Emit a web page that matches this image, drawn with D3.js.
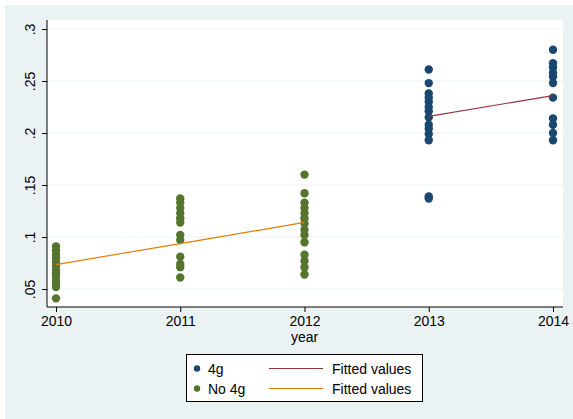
<!DOCTYPE html>
<html>
<head>
<meta charset="utf-8">
<script src="https://cdn.jsdelivr.net/npm/d3@7"></script>
<style>
  html, body { margin: 0; padding: 0; background: #ffffff; }
  svg { display: block; }
  text { font-family: "Liberation Sans", Arial, sans-serif; fill: #000; }
</style>
</head>
<body>
<svg id="chart" width="573" height="419"></svg>
<script>
// Year categories on the x axis
const years = [2010, 2011, 2012, 2013, 2014];
const yTicks = [0.05, 0.1, 0.15, 0.2, 0.25, 0.3];

// Observations for markets with 4g (by year)
const fourG2013 = [0.261, 0.248, 0.238, 0.234, 0.230, 0.225, 0.221, 0.215, 0.208, 0.204, 0.199, 0.193, 0.139, 0.137];
const fourG2014 = [0.280, 0.267, 0.263, 0.258, 0.254, 0.248, 0.234, 0.214, 0.208, 0.200, 0.193];

// Observations for markets without 4g (by year)
const noFourG2010 = [0.091, 0.087, 0.083, 0.080, 0.076, 0.072, 0.068, 0.065, 0.062, 0.058, 0.055, 0.052, 0.041];
const noFourG2011 = [0.137, 0.133, 0.128, 0.123, 0.118, 0.114, 0.102, 0.097, 0.081, 0.074, 0.071, 0.061];
const noFourG2012 = [0.160, 0.142, 0.133, 0.128, 0.123, 0.118, 0.113, 0.107, 0.102, 0.095, 0.083, 0.077, 0.071, 0.064];

// Fitted values from the linear fits
const fitYears4g = [2013, 2014];
const fitValues4g = [0.216, 0.236];
const fitYearsNo4g = [2010, 2011, 2012];
const fitValuesNo4g = [0.0735, 0.0937, 0.114];

const legendLabels = ["4g", "No 4g", "Fitted values", "Fitted values"];

const colors = {
  fourG: "#1a476f",
  noFourG: "#55752f",
  fit4g: "#90353b",
  fitNo4g: "#e37e00",
  graphBg: "#eaf2f3",
  grid: "#eaf2f3"
};

const svg = d3.select("#chart");

// graph region background
svg.append("rect").attr("x", 5).attr("y", 5).attr("width", 568).attr("height", 414)
  .attr("fill", colors.graphBg);

const plot = { left: 47, right: 563, top: 20, bottom: 307 };

const x = d3.scaleLinear().domain([2010, 2014]).range([56, 553]);
const y = d3.scaleLinear().domain([0.05, 0.3]).range([289, 29]);

// plot region
svg.append("rect")
  .attr("x", plot.left).attr("y", plot.top)
  .attr("width", plot.right - plot.left).attr("height", plot.bottom - plot.top)
  .attr("fill", "#ffffff");

// horizontal gridlines
svg.append("g").selectAll("line").data(yTicks).join("line")
  .attr("x1", plot.left).attr("x2", plot.right)
  .attr("y1", d => y(d)).attr("y2", d => y(d))
  .attr("stroke", colors.grid).attr("stroke-width", 1.2);

// y axis
const fmtY = d => d3.format("")(+d.toFixed(2)).replace(/^0\./, ".");
const yAxis = d3.axisLeft(y).tickValues(yTicks).tickSize(5).tickPadding(4).tickFormat(fmtY);
const gy = svg.append("g").attr("transform", `translate(${plot.left},0)`).call(yAxis);
gy.select(".domain").remove();
gy.append("line").attr("x1", 0).attr("x2", 0).attr("y1", plot.top).attr("y2", plot.bottom)
  .attr("stroke", "#000").attr("stroke-width", 1);
gy.selectAll(".tick line").attr("stroke", "#000");
gy.selectAll(".tick text")
  .attr("font-size", 14)
  .attr("transform", "rotate(-90)")
  .attr("x", 0).attr("dy", 0)
  .attr("y", -12)
  .attr("text-anchor", "middle")
  .attr("fill", "#000");

// x axis
const xAxis = d3.axisBottom(x).tickValues(years).tickSize(5).tickPadding(4).tickFormat(d3.format("d"));
const gx = svg.append("g").attr("transform", `translate(0,${plot.bottom})`).call(xAxis);
gx.select(".domain").remove();
gx.append("line").attr("x1", plot.left).attr("x2", plot.right).attr("y1", 0).attr("y2", 0)
  .attr("stroke", "#000").attr("stroke-width", 1);
gx.selectAll(".tick line").attr("stroke", "#000");
gx.selectAll(".tick text").attr("font-size", 14).attr("fill", "#000");

// x axis title
svg.append("text").attr("x", (x(2010) + x(2014)) / 2).attr("y", 342)
  .attr("text-anchor", "middle").attr("font-size", 14).text("year");

// scatter points
const pts = [];
const addPts = (yr, vals, group) => vals.forEach(v => pts.push({ yr, v, group }));
addPts(2010, noFourG2010, "no");
addPts(2011, noFourG2011, "no");
addPts(2012, noFourG2012, "no");
addPts(2013, fourG2013, "4g");
addPts(2014, fourG2014, "4g");

svg.append("g").selectAll("circle").data(pts).join("circle")
  .attr("cx", d => x(d.yr)).attr("cy", d => y(d.v)).attr("r", 4.2)
  .attr("fill", d => d.group === "4g" ? colors.fourG : colors.noFourG);

// fitted lines
const line = d3.line().x(d => x(d[0])).y(d => y(d[1]));
svg.append("path").datum(d3.zip(fitYears4g, fitValues4g)).attr("d", line)
  .attr("fill", "none").attr("stroke", colors.fit4g).attr("stroke-width", 1.2);
svg.append("path").datum(d3.zip(fitYearsNo4g, fitValuesNo4g)).attr("d", line)
  .attr("fill", "none").attr("stroke", colors.fitNo4g).attr("stroke-width", 1.2);

// legend
const lg = svg.append("g");
lg.append("rect").attr("x", 186.5).attr("y", 354.5).attr("width", 236).attr("height", 47)
  .attr("fill", "#fff").attr("stroke", "#000").attr("stroke-width", 1);
const rowY = [368.5, 388.5];
lg.append("circle").attr("cx", 197).attr("cy", rowY[0]).attr("r", 3.2).attr("fill", colors.fourG);
lg.append("circle").attr("cx", 197).attr("cy", rowY[1]).attr("r", 3.2).attr("fill", colors.noFourG);
lg.append("text").attr("x", 208).attr("y", rowY[0] + 5).attr("font-size", 14).text(legendLabels[0]);
lg.append("text").attr("x", 208).attr("y", rowY[1] + 5).attr("font-size", 14).text(legendLabels[1]);
lg.append("line").attr("x1", 269).attr("x2", 323).attr("y1", rowY[0]).attr("y2", rowY[0])
  .attr("stroke", colors.fit4g).attr("stroke-width", 1.2);
lg.append("line").attr("x1", 269).attr("x2", 323).attr("y1", rowY[1]).attr("y2", rowY[1])
  .attr("stroke", colors.fitNo4g).attr("stroke-width", 1.2);
lg.append("text").attr("x", 332).attr("y", rowY[0] + 5).attr("font-size", 14).text(legendLabels[2]);
lg.append("text").attr("x", 332).attr("y", rowY[1] + 5).attr("font-size", 14).text(legendLabels[3]);
</script>
</body>
</html>
